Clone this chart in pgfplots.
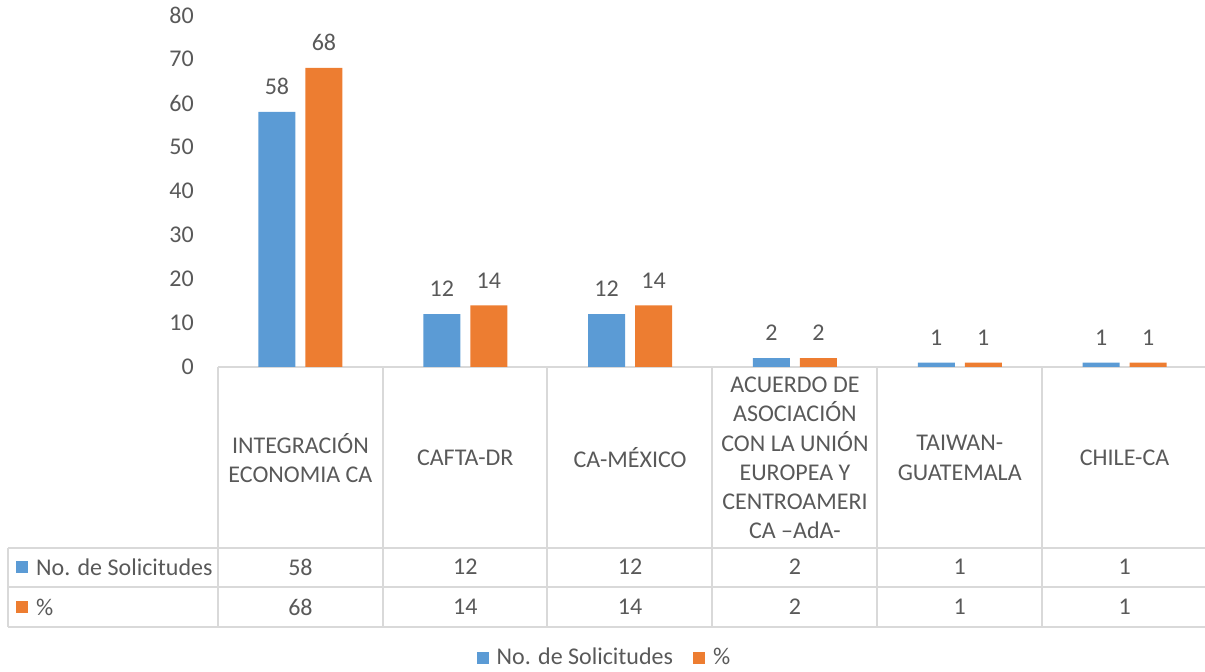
\documentclass[border=0pt]{standalone}
\usepackage{pgfplots}
\usepackage{pgfplotstable}
\pgfplotsset{compat=1.18}
\usepackage{fontspec}
\setmainfont{Carlito}
\definecolor{cblue}{HTML}{5B9BD5}
\definecolor{corange}{HTML}{ED7D31}
\definecolor{ctext}{HTML}{595959}
\definecolor{cgrid}{HTML}{D9D9D9}

\pgfplotstableread{
x sol pct
0 58 68
1 12 14
2 12 14
3 2 2
4 1 1
5 1 1
}\datatab

\begin{document}
\fontsize{24}{29.3}\selectfont
\begin{tikzpicture}[x=1pt,y=1pt]
\path[use as bounding box] (0,0) rectangle (1205,672);
% table grid
\begin{scope}[cgrid, line width=1.6pt]
\draw (218,305) -- (1207,305);
\foreach \xx in {218,383,547,712,877,1042,1207} {\draw (\xx,305) -- (\xx,45);}
\draw (8,124) -- (1207,124);
\draw (8,85) -- (1207,85);
\draw (8,45) -- (1207,45);
\draw (8,124) -- (8,45);
\end{scope}
\fill[cblue] (16,99) rectangle (28,111);
\node[anchor=west, inner sep=0, text=ctext] at (36,105) {No. de Solicitudes};
\fill[corange] (16,59) rectangle (28,71);
\node[anchor=west, inner sep=0, text=ctext] at (36,65) {\%};
\begin{axis}[
  at={(218pt,305pt)}, anchor=south west,
  scale only axis, width=989pt, height=352pt,
  xmin=-0.5, xmax=5.5, ymin=0, ymax=80,
  ytick={0,10,...,80},
  xtick={0,...,5},
  xticklabels={{INTEGRACIÓN\\ECONOMIA CA},{CAFTA-DR},{CA-MÉXICO},{ACUERDO DE\\ASOCIACIÓN\\CON LA UNIÓN\\EUROPEA Y\\CENTROAMERI\\CA –AdA-},{TAIWAN-\\GUATEMALA},{CHILE-CA}},
  axis line style={draw=none},
  major tick length=0pt,
  tick style={draw=none},
  ticklabel style={text=ctext, font=\fontsize{24}{29.3}\selectfont},
  /pgf/number format/assume math mode=true,
  clip=false,
  yticklabel style={xshift=-16pt},
  xticklabel style={anchor=center, yshift=-91pt, align=center},
  legend style={at={(0.3908,-0.828)}, anchor=center, draw=none, fill=none,
    legend columns=2, font=\fontsize{24}{29.3}\selectfont, text=ctext,
    /tikz/every even column/.append style={column sep=18pt}},
  legend cell align=left,
]
\addplot[ybar, bar width=37pt, bar shift=-23.5pt, fill=cblue, draw=none,
  nodes near coords, nodes near coords style={text=ctext, xshift=-23.5pt, yshift=9pt, font=\fontsize{24}{29.3}\selectfont},
  legend image code/.code={\fill[cblue] (0pt,-6pt) rectangle (12pt,6pt); \path (18pt,0pt);}]
  table[x=x, y=sol]{\datatab};
\addlegendentry{No. de Solicitudes}
\addplot[ybar, bar width=37pt, bar shift=23.5pt, fill=corange, draw=none,
  nodes near coords, nodes near coords style={text=ctext, xshift=23.5pt, yshift=9pt, font=\fontsize{24}{29.3}\selectfont},
  legend image code/.code={\fill[corange] (0pt,-6pt) rectangle (12pt,6pt); \path (18pt,0pt);}]
  table[x=x, y=pct]{\datatab};
\addlegendentry{\%}
% data table values
\addplot[forget plot, draw=none, mark=none, nodes near coords, point meta=explicit symbolic,
  nodes near coords align=center, nodes near coords style={text=ctext, anchor=center, font=\fontsize{24}{29.3}\selectfont}]
  table[x=x, y expr=-45.45, meta=sol]{\datatab};
\addplot[forget plot, draw=none, mark=none, nodes near coords, point meta=explicit symbolic,
  nodes near coords align=center, nodes near coords style={text=ctext, anchor=center, font=\fontsize{24}{29.3}\selectfont}]
  table[x=x, y expr=-54.55, meta=pct]{\datatab};
\end{axis}
\end{tikzpicture}
\end{document}
